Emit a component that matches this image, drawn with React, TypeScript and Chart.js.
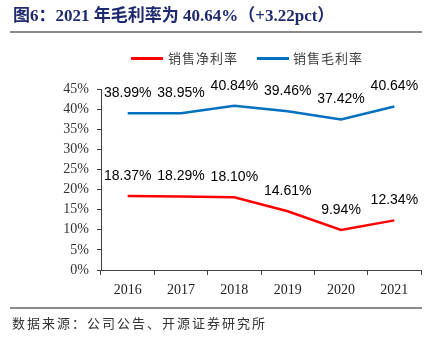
import React, { useEffect, useRef } from "react";
import { Chart, registerables } from "chart.js";

Chart.register(...registerables);

const categories = ["2016", "2017", "2018", "2019", "2020", "2021"];
const netMargin = [18.37, 18.29, 18.1, 14.61, 9.94, 12.34];
const grossMargin = [38.99, 38.95, 40.84, 39.46, 37.42, 40.64];
const seriesNames = ["销售净利率", "销售毛利率"];
const yMin = 0;
const yMax = 45;
const yStep = 5;

const labelPlugin = {
  id: "pointLabels",
  afterDatasetsDraw(chart: any) {
    const ctx = chart.ctx;
    ctx.save();
    ctx.font = "14px 'Liberation Sans', Arial, sans-serif";
    ctx.fillStyle = "#000";
    ctx.textAlign = "center";
    ctx.textBaseline = "middle";
    chart.data.datasets.forEach((ds: any, i: number) => {
      const meta = chart.getDatasetMeta(i);
      meta.data.forEach((pt: any, j: number) => {
        ctx.fillText(ds.data[j].toFixed(2) + "%", pt.x, pt.y - 20);
      });
    });
    ctx.restore();
  },
};

export default function App() {
  const ref = useRef<HTMLCanvasElement>(null);
  useEffect(() => {
    const chart = new Chart(ref.current as HTMLCanvasElement, {
      type: "line",
      data: {
        labels: categories,
        datasets: [
          {
            label: seriesNames[0],
            data: netMargin,
            borderColor: "#FF0000",
            backgroundColor: "#FF0000",
            borderWidth: 2.5,
            pointRadius: 0,
            tension: 0,
          },
          {
            label: seriesNames[1],
            data: grossMargin,
            borderColor: "#0070C0",
            backgroundColor: "#0070C0",
            borderWidth: 2.5,
            pointRadius: 0,
            tension: 0,
          },
        ],
      },
      options: {
        responsive: false,
        animation: false,
        layout: { padding: { left: 0, right: 13, top: 89, bottom: 42 } },
        plugins: { legend: { display: false }, tooltip: { enabled: false } },
        scales: {
          x: {
            type: "category",
            offset: true,
            grid: {
              display: true,
              drawOnChartArea: false,
              drawTicks: true,
              tickLength: 5,
              offset: true,
              color: "#404040",
            },
            border: { display: true, color: "#404040", width: 1 },
            ticks: {
              font: { family: "'Liberation Serif', 'Times New Roman', serif", size: 14 },
              color: "#222",
              padding: 7,
            },
            afterFit: (s: any) => {
              s.height = 30;
            },
          },
          y: {
            min: yMin,
            max: yMax,
            grid: {
              display: true,
              drawOnChartArea: false,
              drawTicks: true,
              tickLength: 4,
              color: "#404040",
            },
            border: { display: true, color: "#404040", width: 1 },
            ticks: {
              stepSize: yStep,
              callback: (v: any) => v + "%",
              font: { family: "'Liberation Serif', 'Times New Roman', serif", size: 14 },
              color: "#333",
              padding: 8,
            },
            afterFit: (s: any) => {
              s.width = 101;
            },
          },
        },
      },
      plugins: [labelPlugin],
    } as any);
    return () => chart.destroy();
  }, []);

  const legendText: React.CSSProperties = {
    position: "absolute",
    top: 49,
    fontFamily: "'Noto Sans CJK SC', sans-serif",
    fontSize: 13,
    letterSpacing: 1,
    color: "#404040",
    lineHeight: "18px",
    whiteSpace: "nowrap",
  };

  return (
    <div
      style={{
        position: "fixed",
        left: 0,
        top: 0,
        width: 434,
        height: 342,
        background: "#fff",
        overflow: "hidden",
      }}
    >
      <canvas
        ref={ref}
        width={434}
        height={342}
        style={{ position: "absolute", left: 0, top: 0, width: 434, height: 342 }}
      />
      <div
        style={{
          position: "absolute",
          left: 13,
          top: 5,
          fontFamily: "'Liberation Serif', 'Noto Sans CJK SC', serif",
          fontWeight: "bold",
          fontSize: 17,
          color: "#1F2A6E",
          whiteSpace: "nowrap",
          lineHeight: "22px",
        }}
      >
        图6：2021 年毛利率为 40.64%（+3.22pct）
      </div>
      <div style={{ position: "absolute", left: 10, top: 31, width: 412, height: 2, background: "#8a8a8a" }} />
      <div style={{ position: "absolute", left: 131, top: 57, width: 32, height: 3, background: "#FF0000" }} />
      <div style={{ ...legendText, left: 168 }}>{seriesNames[0]}</div>
      <div style={{ position: "absolute", left: 257, top: 57, width: 32, height: 3, background: "#0070C0" }} />
      <div style={{ ...legendText, left: 293 }}>{seriesNames[1]}</div>
      <div style={{ position: "absolute", left: 10, top: 307, width: 412, height: 2, background: "#8a8a8a" }} />
      <div
        style={{
          position: "absolute",
          left: 12,
          top: 314,
          fontFamily: "'Noto Sans CJK SC', sans-serif",
          fontSize: 13,
          letterSpacing: 2,
          color: "#333",
          lineHeight: "18px",
          whiteSpace: "nowrap",
        }}
      >
        数据来源：公司公告、开源证券研究所
      </div>
    </div>
  );
}
